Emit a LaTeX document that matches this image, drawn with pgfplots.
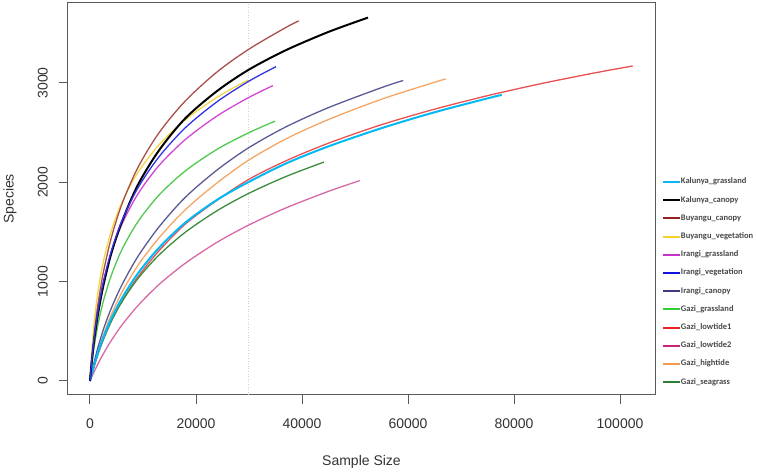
\documentclass[border=0pt]{standalone}
\usepackage{fontspec}
\setmainfont{Liberation Sans}
\newfontfamily\legfont{Carlito}
\usepackage{pgfplots}
\pgfplotsset{compat=1.18}
\definecolor{cKg}{RGB}{0,185,245}
\definecolor{cKc}{RGB}{0,0,0}
\definecolor{cBc}{RGB}{170,80,75}
\definecolor{cBv}{RGB}{245,215,70}
\definecolor{cIg}{RGB}{210,70,210}
\definecolor{cIv}{RGB}{50,50,230}
\definecolor{cIc}{RGB}{90,90,150}
\definecolor{cGg}{RGB}{80,200,80}
\definecolor{cGl1}{RGB}{235,80,80}
\definecolor{cGl2}{RGB}{215,105,165}
\definecolor{cGh}{RGB}{245,165,100}
\definecolor{cGs}{RGB}{60,140,60}
% legend colours
\definecolor{lKg}{RGB}{20,180,240}
\definecolor{lBc}{RGB}{150,35,35}
\definecolor{lBv}{RGB}{245,210,40}
\definecolor{lIg}{RGB}{200,50,200}
\definecolor{lIv}{RGB}{20,20,225}
\definecolor{lIc}{RGB}{60,60,130}
\definecolor{lGg}{RGB}{50,205,50}
\definecolor{lGl1}{RGB}{235,35,35}
\definecolor{lGl2}{RGB}{200,35,120}
\definecolor{lGh}{RGB}{245,155,80}
\definecolor{lGs}{RGB}{45,125,50}
\begin{document}
\begin{tikzpicture}
\begin{axis}[name=ax, scale only axis, width=587pt, height=392pt,
  xmin=-4150, xmax=106600, ymin=-141, ymax=3805,
  axis line style={draw=black!65, line width=1pt},
  xtick={0,20000,40000,60000,80000,100000}, ytick={0,1000,2000,3000},
  xticklabels={0,20000,40000,60000,80000,100000},
  yticklabels={0,1000,2000,3000},
  scaled ticks=false,
  tick align=outside, xtick pos=bottom, ytick pos=left, major tick length=9pt,
  tick style={draw=black!65, line width=1pt},
  ticklabel style={font=\fontsize{14}{14}\selectfont, text=black!80},
  yticklabel style={rotate=90, anchor=south, inner sep=0pt},
  xticklabel style={anchor=north, inner sep=0pt},
  xticklabel shift=15pt, yticklabel shift=11pt,
  xlabel={Sample Size}, ylabel={Species},
  label style={font=\fontsize{14}{14}\selectfont, text=black!80},
  xlabel style={at={(axis description cs:0.5,-0.171)}, anchor=center},
  ylabel style={at={(axis description cs:-0.0988,0.5)}, anchor=center},
  legend style={draw=none, fill=none, at={(axis description cs:1.0119,0.5536)}, anchor=north west,
    inner sep=0pt, outer sep=0pt, row sep=10.2pt,
    font=\legfont\bfseries\fontsize{8.5}{8.5}\selectfont, text=black!72,
    nodes={inner sep=0pt, text height=6pt, text depth=2pt},
    /tikz/every even column/.append style={column sep=4pt}},
  legend cell align=left,
  legend image code/.code={\draw[#1, line width=2pt] (0pt,0pt) -- (17pt,0pt);},
]
\addlegendimage{lKg}\addlegendentry{Kalunya\_grassland}
\addlegendimage{black}\addlegendentry{Kalunya\_canopy}
\addlegendimage{lBc}\addlegendentry{Buyangu\_canopy}
\addlegendimage{lBv}\addlegendentry{Buyangu\_vegetation}
\addlegendimage{lIg}\addlegendentry{Irangi\_grassland}
\addlegendimage{lIv}\addlegendentry{Irangi\_vegetation}
\addlegendimage{lIc}\addlegendentry{Irangi\_canopy}
\addlegendimage{lGg}\addlegendentry{Gazi\_grassland}
\addlegendimage{lGl1}\addlegendentry{Gazi\_lowtide1}
\addlegendimage{lGl2}\addlegendentry{Gazi\_lowtide2}
\addlegendimage{lGh}\addlegendentry{Gazi\_hightide}
\addlegendimage{lGs}\addlegendentry{Gazi\_seagrass}

\addplot[forget plot, dotted, black!18, line width=0.6pt] coordinates {(29800,-141) (29800,3805)};

% Gazi_lowtide1
\addplot[forget plot, smooth, cGl1, line width=1.3pt] coordinates {(0,0)(300,60)(800,152)(1500,270)(2500,415)(4000,600)(6000,800)(9000,1045)(13000,1310)(18000,1580)(24000,1820)(30000,2031)(37000,2217)(45000,2394)(55000,2580)(65000,2736)(75000,2872)(85000,2992)(95000,3099)(102400,3171)};
% Gazi_lowtide2
\addplot[forget plot, smooth, cGl2, line width=1.3pt] coordinates {(0,0)(300,37)(800,95)(1500,172)(2500,272)(4000,406)(6000,561)(9000,756)(13000,970)(18000,1186)(24000,1397)(30000,1571)(37000,1743)(45000,1909)(50900,2017)};
% Gazi_seagrass
\addplot[forget plot, smooth, cGs, line width=1.3pt] coordinates {(0,0)(300,61)(800,155)(1500,272)(2500,417)(4000,598)(6000,795)(9000,1028)(13000,1267)(18000,1498)(24000,1715)(30000,1890)(37000,2059)(44150,2204)};
% Gazi_hightide
\addplot[forget plot, smooth, cGh, line width=1.3pt] coordinates {(0,0)(300,67)(800,170)(1500,298)(2500,460)(4000,665)(6000,890)(9000,1160)(13000,1440)(18000,1725)(24000,1995)(30000,2225)(37000,2438)(45000,2632)(55000,2836)(65000,3007)(67100,3040)};
% Irangi_canopy
\addplot[forget plot, smooth, cIc, line width=1.3pt] coordinates {(0,0)(300,77)(800,194)(1500,338)(2500,515)(4000,730)(6000,965)(9000,1250)(13000,1550)(18000,1850)(24000,2125)(30000,2350)(37000,2559)(45000,2752)(55000,2953)(59100,3025)};
% Gazi_grassland
\addplot[forget plot, smooth, cGg, line width=1.3pt] coordinates {(0,0)(300,150)(800,350)(1500,565)(2500,800)(4000,1060)(6000,1320)(9000,1600)(13000,1870)(18000,2115)(24000,2333)(30000,2500)(34900,2615)};
% Kalunya_grassland
\addplot[forget plot, smooth, cKg, line width=2pt] coordinates {(0,0)(300,64)(800,162)(1500,285)(2500,435)(4000,625)(6000,830)(9000,1080)(13000,1340)(18000,1595)(24000,1825)(30000,2005)(37000,2190)(45000,2362)(55000,2545)(65000,2705)(75000,2845)(77700,2880)};
% Irangi_grassland
\addplot[forget plot, smooth, cIg, line width=1.3pt] coordinates {(0,0)(300,198)(800,451)(1500,715)(2500,992)(4000,1290)(6000,1575)(9000,1879)(13000,2168)(18000,2431)(24000,2669)(30000,2855)(34500,2973)};
% Buyangu_vegetation
\addplot[forget plot, smooth, cBv, line width=1.3pt] coordinates {(0,0)(300,275)(800,593)(1500,898)(2500,1198)(4000,1508)(6000,1795)(9000,2096)(13000,2376)(18000,2630)(24000,2857)(29800,3029)};
% Buyangu_canopy
\addplot[forget plot, smooth, cBc, line width=1.3pt] coordinates {(0,0)(300,204)(800,477)(1500,771)(2500,1088)(4000,1438)(6000,1777)(9000,2145)(13000,2497)(18000,2820)(24000,3112)(30000,3341)(37000,3560)(39400,3625)};
% Kalunya_canopy
\addplot[forget plot, smooth, cKc, line width=2pt] coordinates {(0,0)(300,175)(800,412)(1500,670)(2500,955)(4000,1280)(6000,1600)(9000,1970)(13000,2320)(18000,2645)(24000,2920)(30000,3135)(37000,3331)(45000,3514)(52450,3658)};
% Irangi_vegetation
\addplot[forget plot, smooth, cIv, line width=1.3pt] coordinates {(0,0)(300,190)(800,440)(1500,705)(2500,990)(4000,1305)(6000,1610)(9000,1940)(13000,2255)(18000,2550)(24000,2812)(30000,3019)(35100,3164)};
\end{axis}
\pgfresetboundingbox
\path ([shift={(-68pt,-78pt)}]ax.south west) rectangle ([shift={(102pt,3pt)}]ax.north east);
\end{tikzpicture}
\end{document}
